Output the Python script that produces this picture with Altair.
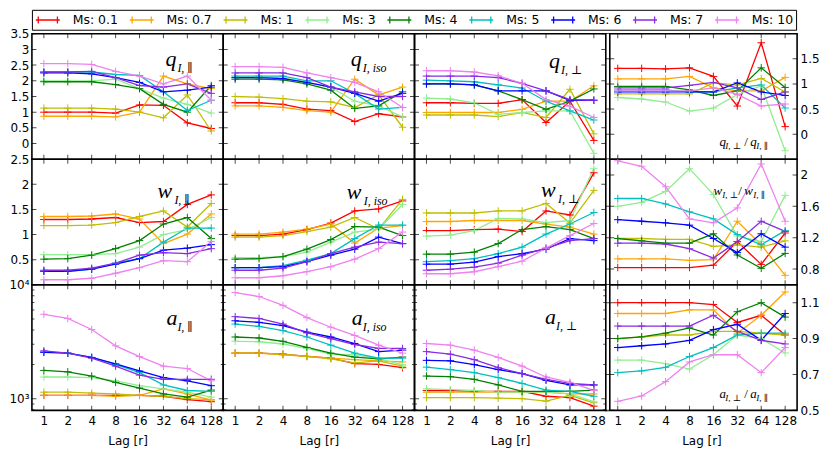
import altair as alt
import pandas as pd

lags = [1, 2, 4, 8, 16, 32, 64, 128]
ms_labels = ["0.1", "0.7", "1", "3", "4", "5", "6", "7", "10"]
colors = ["#ff0000", "#ffa500", "#bfbf00", "#90ee90", "#008000",
          "#00bfbf", "#0000ff", "#8a2be2", "#ee82ee"]

# each list: one series per Ms (order as ms_labels), values at lags
q_par = [
    [1.0, 1.0, 1.0, 0.97, 1.23, 1.22, 0.66, 0.48],
    [0.87, 0.87, 0.87, 0.85, 1.0, 2.15, 1.9, 1.75],
    [1.13, 1.13, 1.13, 1.1, 1.0, 0.82, 1.55, 0.4],
    [2.0, 2.0, 2.0, 2.05, 1.75, 1.45, 1.25, 0.97],
    [1.97, 1.97, 1.97, 1.88, 1.75, 1.25, 1.0, 1.85],
    [2.28, 2.28, 2.28, 2.2, 2.17, 1.65, 1.05, 1.38],
    [2.25, 2.25, 2.22, 2.1, 1.95, 1.65, 1.7, 1.8],
    [2.28, 2.28, 2.3, 2.1, 1.85, 1.8, 1.9, 1.6],
    [2.55, 2.55, 2.52, 2.3, 2.15, 1.9, 2.15, 1.38],
]
q_iso = [
    [1.3, 1.3, 1.25, 1.1, 1.05, 0.7, 0.95, 0.85],
    [1.2, 1.2, 1.15, 1.05, 1.0, 2.05, 1.55, 1.8],
    [1.5, 1.48, 1.43, 1.35, 1.33, 1.15, 1.55, 0.52],
    [2.1, 2.1, 2.1, 1.95, 1.8, 1.35, 1.2, 0.85],
    [2.05, 2.05, 2.03, 1.9, 1.7, 1.12, 1.2, 1.65],
    [2.15, 2.15, 2.15, 2.0, 2.0, 1.6, 1.1, 1.15],
    [2.1, 2.1, 2.07, 1.95, 1.8, 1.6, 1.35, 1.6],
    [2.25, 2.25, 2.25, 2.1, 1.8, 1.65, 1.5, 1.5],
    [2.45, 2.45, 2.43, 2.25, 2.1, 1.95, 1.65, 1.15],
]
q_perp = [
    [1.3, 1.3, 1.28, 1.28, 1.4, 0.67, 1.35, 0.1],
    [0.99, 0.99, 0.99, 0.99, 1.09, 1.35, 1.35, 1.84],
    [0.91, 0.91, 0.91, 0.86, 0.99, 0.83, 1.73, 0.31],
    [1.45, 1.42, 1.3, 0.93, 0.99, 1.04, 1.04, -0.31],
    [1.9, 1.9, 1.87, 1.68, 1.4, 1.09, 1.35, 1.74],
    [2.02, 2.0, 1.97, 1.87, 1.77, 1.35, 1.04, 0.75],
    [1.9, 1.9, 1.87, 1.68, 1.68, 1.68, 1.38, 1.38],
    [2.15, 2.15, 2.15, 2.1, 1.92, 1.68, 1.4, 1.38],
    [2.32, 2.32, 2.28, 2.16, 1.92, 1.4, 1.19, 0.83],
]
q_ratio = [
    [1.31, 1.31, 1.3, 1.32, 1.15, 0.56, 1.82, 0.15],
    [1.1, 1.1, 1.1, 1.15, 0.92, 0.86, 0.86, 1.13],
    [0.8, 0.8, 0.8, 0.8, 1.02, 0.98, 1.11, 0.84],
    [0.73, 0.7, 0.64, 0.46, 0.52, 0.79, 0.96, -0.33],
    [0.95, 0.95, 0.95, 0.88, 0.77, 0.86, 1.32, 0.93],
    [0.88, 0.88, 0.88, 0.84, 0.84, 0.92, 0.98, 0.52],
    [0.84, 0.84, 0.84, 0.84, 0.84, 1.02, 0.84, 0.77],
    [0.92, 0.92, 0.92, 0.97, 1.03, 0.92, 0.69, 0.84],
    [0.86, 0.86, 0.86, 0.86, 0.92, 0.79, 0.56, 0.6],
]
w_par = [
    [1.3, 1.3, 1.31, 1.34, 1.24, 1.26, 1.6, 1.79],
    [1.36, 1.36, 1.37, 1.41, 1.31, 0.82, 1.01, 1.41],
    [1.18, 1.18, 1.19, 1.24, 1.36, 1.47, 1.15, 1.62],
    [0.6, 0.6, 0.6, 0.62, 0.75, 1.0, 1.1, 1.34],
    [0.51, 0.52, 0.59, 0.72, 0.88, 1.21, 1.34, 0.92],
    [0.27, 0.27, 0.31, 0.43, 0.52, 0.85, 1.13, 1.13],
    [0.27, 0.27, 0.31, 0.41, 0.52, 0.69, 0.73, 0.8],
    [0.29, 0.29, 0.33, 0.43, 0.59, 0.64, 0.62, 0.72],
    [0.1, 0.1, 0.13, 0.23, 0.34, 0.48, 0.46, 0.86],
]
w_iso = [
    [0.98, 0.98, 1.01, 1.1, 1.23, 1.47, 1.51, 1.67],
    [1.01, 1.01, 1.05, 1.11, 1.21, 0.83, 1.13, 1.18],
    [0.95, 0.95, 0.98, 1.06, 1.15, 1.34, 1.11, 1.7],
    [0.54, 0.54, 0.56, 0.65, 0.85, 1.05, 1.11, 1.6],
    [0.51, 0.52, 0.56, 0.71, 0.9, 1.16, 1.15, 0.98],
    [0.34, 0.34, 0.38, 0.49, 0.62, 0.92, 1.19, 1.19],
    [0.34, 0.34, 0.36, 0.46, 0.59, 0.71, 0.95, 0.82],
    [0.29, 0.29, 0.33, 0.46, 0.62, 0.75, 0.85, 0.82],
    [0.14, 0.14, 0.18, 0.26, 0.36, 0.51, 0.72, 1.05],
]
w_perp = [
    [1.08, 1.08, 1.1, 1.11, 1.06, 1.47, 1.39, 2.23],
    [1.26, 1.26, 1.28, 1.28, 1.28, 1.21, 1.15, 1.01],
    [1.43, 1.43, 1.43, 1.47, 1.47, 1.62, 1.23, 1.88],
    [0.97, 0.99, 1.08, 1.32, 1.31, 1.24, 1.28, 2.32],
    [0.61, 0.61, 0.65, 0.82, 1.1, 1.16, 1.1, 0.92],
    [0.46, 0.48, 0.52, 0.62, 0.75, 1.01, 1.21, 1.44],
    [0.41, 0.41, 0.45, 0.56, 0.62, 0.71, 0.92, 0.88],
    [0.29, 0.31, 0.35, 0.43, 0.59, 0.73, 0.88, 0.92],
    [0.22, 0.22, 0.26, 0.36, 0.47, 0.73, 0.98, 1.22],
]
w_ratio = [
    [0.82, 0.82, 0.82, 0.82, 0.85, 1.15, 0.86, 1.26],
    [0.93, 0.93, 0.93, 0.91, 0.92, 1.41, 1.11, 0.72],
    [1.19, 1.19, 1.18, 1.18, 1.09, 1.11, 1.08, 1.16],
    [1.6, 1.65, 1.79, 2.08, 1.75, 1.22, 1.15, 1.74],
    [1.19, 1.16, 1.13, 1.13, 1.25, 0.98, 0.81, 1.0],
    [1.7, 1.7, 1.63, 1.53, 1.44, 1.24, 1.11, 1.29],
    [1.43, 1.41, 1.39, 1.36, 1.19, 1.01, 1.25, 1.08],
    [1.13, 1.13, 1.12, 1.06, 0.94, 1.15, 1.41, 1.28],
    [2.18, 2.11, 1.85, 1.44, 1.39, 1.58, 2.14, 1.41],
]
a_par = [
    [1070, 1070, 1070, 1070, 1070, 1050, 980, 940],
    [1070, 1070, 1070, 1050, 1070, 1220, 1100, 970],
    [1140, 1140, 1120, 1100, 1070, 1050, 1000, 980],
    [1550, 1550, 1530, 1435, 1300, 1220, 1140, 1030],
    [1770, 1720, 1580, 1390, 1240, 1100, 1030, 1190],
    [2580, 2510, 2300, 2000, 1690, 1320, 1180, 1160],
    [2550, 2510, 2300, 2020, 1750, 1530, 1435, 1300],
    [2630, 2510, 2270, 1930, 1610, 1480, 1480, 1480],
    [5510, 5060, 4050, 2910, 2340, 1930, 1840, 1435],
]
a_iso = [
    [2510, 2510, 2460, 2350, 2270, 2030, 2000, 1870],
    [2510, 2510, 2420, 2350, 2270, 2200, 2150, 2100],
    [2510, 2510, 2460, 2350, 2240, 2060, 2150, 1930],
    [3190, 3160, 3020, 2760, 2460, 2430, 2240, 1990],
    [3480, 3410, 3190, 2820, 2510, 2320, 2240, 2320],
    [4520, 4310, 3960, 3480, 2950, 2510, 2270, 2270],
    [4830, 4680, 4380, 3840, 3480, 3050, 2590, 2670],
    [5250, 5060, 4520, 3780, 3360, 2990, 2760, 2760],
    [8550, 7890, 6600, 5150, 4240, 3590, 2950, 2510],
]
a_perp = [
    [1180, 1180, 1160, 1160, 1160, 1050, 1020, 860],
    [1140, 1140, 1140, 1140, 1140, 1140, 1100, 1100],
    [1020, 1020, 1020, 1010, 1000, 950, 1070, 920],
    [1220, 1200, 1180, 1140, 1140, 1140, 1100, 940],
    [1580, 1560, 1480, 1320, 1160, 1160, 1160, 1190],
    [1890, 1800, 1690, 1530, 1360, 1190, 1160, 1050],
    [2170, 2150, 1990, 1800, 1660, 1450, 1320, 1320],
    [2590, 2460, 2200, 1870, 1660, 1480, 1360, 1320],
    [3050, 2950, 2670, 2300, 1930, 1550, 1390, 1180],
]
a_ratio = [
    [1.1, 1.1, 1.1, 1.1, 1.09, 0.99, 1.03, 0.92],
    [1.04, 1.04, 1.04, 1.06, 1.06, 0.93, 1.03, 1.16],
    [0.9, 0.91, 0.92, 0.92, 0.94, 0.94, 0.93, 0.92],
    [0.78, 0.78, 0.76, 0.73, 0.81, 0.92, 0.9, 0.82],
    [0.9, 0.91, 0.93, 0.96, 0.92, 1.05, 1.1, 1.02],
    [0.71, 0.72, 0.74, 0.8, 0.85, 0.92, 0.93, 0.93],
    [0.85, 0.86, 0.87, 0.89, 0.95, 0.98, 0.89, 1.04],
    [0.97, 0.97, 0.97, 0.97, 1.03, 0.94, 0.89, 0.87],
    [0.55, 0.58, 0.66, 0.77, 0.81, 0.81, 0.71, 0.85],
]

FONT = "DejaVu Sans"
SERIF = "Liberation Serif, DejaVu Serif"
PLUS = "M-1,0L1,0M0,-1L0,1"
LEG_SYM = "M-1,0L3,0M-0.6,-0.6L-0.6,0.6M2.6,-0.6L2.6,0.6"
W = 192
H = 126

LEGEND = alt.Legend(
    orient="none", legendX=0, legendY=-24, direction="horizontal", columns=9,
    title=None, symbolType=LEG_SYM, symbolSize=144, symbolStrokeWidth=1.3,
    symbolOpacity=1, labelFont=FONT, labelFontSize=12.5, labelColor="black",
    labelExpr="'Ms: ' + datum.label", strokeColor="black",
    fillColor="white", padding=3, columnPadding=8.2, labelOffset=24,
)


def long_df(values):
    rows = []
    for ms, series in zip(ms_labels, values):
        for lag, v in zip(lags, series):
            rows.append({"lag": lag, "Ms": ms, "value": v})
    return pd.DataFrame(rows)


def text_layer(s, x, y, size, italic=True, font=SERIF):
    return alt.Chart(pd.DataFrame({"t": [s]})).mark_text(
        align="left", baseline="alphabetic", font=font, fontSize=size,
        fontStyle="italic" if italic else "normal", color="black",
    ).encode(text="t:N", x=alt.value(x), y=alt.value(y))


def panel(values, ydom, ylog, yaxis, yticks, labels, xlabels, minor=None, gap=False):
    df = long_df(values)
    xscale = alt.Scale(type="log", base=2, domain=[2 ** -0.5, 2 ** 7.5], nice=False)
    if xlabels:
        xaxis = alt.Axis(values=lags, format="d", ticks=False, domain=False, grid=False,
                         labelFont=FONT, labelFontSize=12, labelColor="black",
                         labelPadding=5, labelFlush=False, title="Lag [r]",
                         titleFont=FONT, titleFontSize=12, titleFontWeight="normal",
                         titleColor="black", titlePadding=9)
    else:
        xaxis = None
    if ylog:
        yscale = alt.Scale(type="log", domain=ydom, nice=False)
    else:
        yscale = alt.Scale(domain=ydom, nice=False, zero=False)
    if yaxis:
        kw = dict(orient=yaxis, values=yticks, ticks=False, domain=False, grid=False,
                  labelFont=FONT, labelFontSize=12, labelColor="black",
                  labelPadding=3, title=None, minExtent=0)
        if ylog:
            kw["labelExpr"] = "datum.value >= 5000 ? '10\u2074' : '10\u00b3'"
        else:
            kw["format"] = "~g"
        yax = alt.Axis(**kw)
    else:
        yax = None
    x_enc = alt.X("lag:Q", scale=xscale, axis=xaxis)
    y_enc = alt.Y("value:Q", scale=yscale, axis=yax)
    color = alt.Color("Ms:N", scale=alt.Scale(domain=ms_labels, range=colors),
                      sort=ms_labels, legend=LEGEND)
    base = alt.Chart(df).encode(x=x_enc, y=y_enc, color=color)
    lines = base.mark_line(strokeWidth=1.3, clip=True)
    pts = base.mark_point(shape=PLUS, size=56, filled=False, strokeWidth=1,
                          opacity=1, clip=True)
    layers = []
    x0 = 0
    if gap:
        one = pd.DataFrame({"k": [0]})
        layers.append(alt.Chart(one).mark_rect(color="white").encode(
            x=alt.value(0.9), x2=alt.value(3.2), y=alt.value(0), y2=alt.value(H)))
        layers.append(alt.Chart(one).mark_rule(color="black", strokeWidth=1.6).encode(
            x=alt.value(4), y=alt.value(0), y2=alt.value(H)))
        x0 = 4
    xt = pd.DataFrame({"lag": lags})
    tk = dict(color="black", thickness=1, clip=True, orient="vertical")
    layers.append(alt.Chart(xt).mark_tick(size=9, **tk).encode(x=x_enc, y=alt.value(0)))
    layers.append(alt.Chart(xt).mark_tick(size=9, **tk).encode(x=x_enc, y=alt.value(H)))
    yt = pd.DataFrame({"value": yticks})
    tk2 = dict(color="black", thickness=1, clip=True, orient="horizontal")
    layers.append(alt.Chart(yt).mark_tick(size=9, **tk2).encode(y=y_enc, x=alt.value(x0)))
    layers.append(alt.Chart(yt).mark_tick(size=9, **tk2).encode(y=y_enc, x=alt.value(W)))
    if minor:
        mt = pd.DataFrame({"value": minor})
        layers.append(alt.Chart(mt).mark_tick(size=5, **tk2).encode(y=y_enc, x=alt.value(x0)))
        layers.append(alt.Chart(mt).mark_tick(size=5, **tk2).encode(y=y_enc, x=alt.value(W)))
    layers += [lines, pts]
    for (s, x, y, size, it) in labels:
        layers.append(text_layer(s, x, y, size, it))
    return alt.layer(*layers).properties(width=W, height=H)


def main_label(letter, sub, x, y, dx):
    return [(letter, x, y, 22, True), (sub, x + dx, y + 6, 12, True)]


def ratio_label(letter, s1, s2, x, y, dx):
    return [(letter, x, y, 13, True), (s1, x + dx, y + 3, 9, True),
            ("/", x + 25, y, 13, False), (letter, x + 31, y, 13, True),
            (s2, x + 31 + dx, y + 3, 9, True)]


PAR = "I, \u2225"
PERP = "I, \u22a5"
ISO = "I, iso"
lin1 = [0, 0.5, 1, 1.5, 2, 2.5, 3, 3.5]
lin2 = [0.5, 1, 1.5, 2, 2.5]
logt = [1000, 10000]
logm = [800, 900] + [k * 1000 for k in range(2, 10)]
r1 = [0, 0.5, 1, 1.5]
r2 = [0.8, 1.2, 1.6, 2.0]
r3 = [0.5, 0.7, 0.9, 1.1]

p11 = panel(q_par, [-0.5, 3.5], False, "left", lin1, main_label("q", PAR, 134, 32, 12), False)
p12 = panel(q_iso, [-0.5, 3.5], False, None, lin1, main_label("q", ISO, 128, 32, 12), False)
p13 = panel(q_perp, [-0.5, 3.5], False, None, lin1, main_label("q", PERP, 135, 34, 12), False)
p14 = panel(q_ratio, [-0.5, 2.0], False, "right", r1, ratio_label("q", PERP, PAR, 114, 113, 6), False, gap=True)

p21 = panel(w_par, [0, 2.5], False, "left", lin2, main_label("w", PAR, 126, 39, 17), False)
p22 = panel(w_iso, [0, 2.5], False, None, lin2, main_label("w", ISO, 124, 40, 17), False)
p23 = panel(w_perp, [0, 2.5], False, None, lin2, main_label("w", PERP, 127, 38, 17), False)
p24 = panel(w_ratio, [0.6, 2.2], False, "right", r2, ratio_label("w", PERP, PAR, 108, 36, 9), False, gap=True)

p31 = panel(a_par, [790, 10000], True, "left", logt, main_label("a", PAR, 135, 40, 11), True, logm)
p32 = panel(a_iso, [790, 10000], True, None, logt, main_label("a", ISO, 129, 40, 11), True, logm)
p33 = panel(a_perp, [790, 10000], True, None, logt, main_label("a", PERP, 131, 39, 11), True, logm)
p34 = panel(a_ratio, [0.5, 1.2], False, "right", r3, ratio_label("a", PERP, PAR, 114, 114, 6), True, gap=True)

chart = alt.concat(p11, p12, p13, p14, p21, p22, p23, p24, p31, p32, p33, p34,
                   columns=4, spacing=0, bounds="flush").properties(
    padding={"left": 0, "top": 0, "right": 2, "bottom": 0},
    background="white",
).configure_view(stroke="black", strokeWidth=1.6)

chart.save("out.html", embed_options={"renderer": "svg", "actions": False})
